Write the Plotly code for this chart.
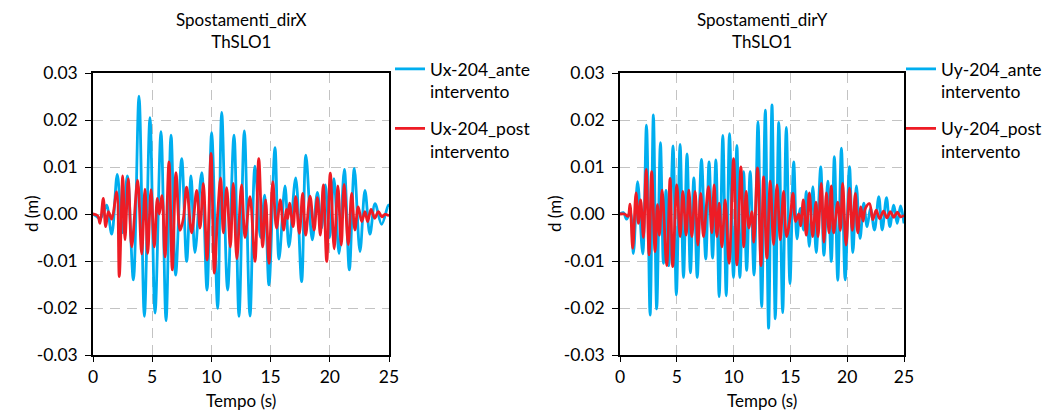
import plotly.graph_objects as go

# ---- data ----
tx_ante = [0, 0.3, 0.6, 0.9, 1.15, 1.58, 2.05, 2.48, 2.90, 3.41, 3.885, 4.34, 4.81, 5.24, 5.74, 6.17, 6.59, 6.98,
           7.49, 7.91, 8.28, 8.61, 9.18, 9.63, 10.02, 10.53, 10.87, 11.37, 11.91, 12.33, 12.78, 13.26, 13.68, 14.15,
           14.50, 14.86, 15.37, 15.71, 16.22, 16.55, 17.12, 17.62, 17.98, 18.52, 18.95, 19.3, 19.62, 19.98, 20.35,
           20.78, 21.23, 21.65, 22.07, 22.55, 22.97, 23.39, 23.82, 24.38, 24.94, 25]
ux_ante = [0, -0.0005, -0.001, 0.0005, 0.0019, -0.0043, 0.0084, -0.004, 0.0081, -0.014, 0.0251, -0.0218, 0.0205,
           -0.0211, 0.0175, -0.0227, 0.0168, -0.013, 0.0118, -0.0101, 0.0081, -0.0082, 0.0088, -0.0162, 0.0173,
           -0.0201, 0.0216, -0.0162, 0.0168, -0.0218, 0.0177, -0.0217, 0.0102, -0.005, 0.004, -0.0151, 0.0141,
           -0.0096, 0.006, -0.007, 0.0077, -0.0144, 0.0125, -0.0055, 0.0046, -0.003, 0.0062, -0.005, 0.0075,
           -0.0084, 0.0095, -0.0119, 0.0097, -0.008, 0.005, -0.0043, 0.0022, -0.0022, 0.0019, 0.0015]

tx_post = [0, 0.4, 0.59, 0.87, 1.07, 1.30, 1.58, 2.00, 2.22, 2.51, 2.70, 2.98, 3.27, 3.77, 4.11, 4.39, 4.62, 4.90,
           5.18, 5.43, 5.60, 5.83, 6.08, 6.42, 6.70, 7.01, 7.35, 7.63, 7.91, 8.33, 8.76, 9.04, 9.32, 9.63, 9.97,
           10.25, 10.53, 10.78, 11.01, 11.29, 11.6, 11.85, 12.15, 12.55, 12.84, 13.26, 13.68, 14.0, 14.33, 14.58,
           14.86, 15.18, 15.5, 15.82, 16.1, 16.33, 16.45, 16.6, 16.9, 17.12, 17.43, 17.71, 17.96, 18.33, 18.67,
           18.95, 19.2, 19.45, 19.74, 20.04, 20.37, 20.68, 20.97, 21.21, 21.56, 21.85, 22.12, 22.4, 22.7, 22.97,
           23.2, 23.48, 23.8, 24.1, 24.4, 24.66, 25]
ux_post = [0, -0.0004, -0.002, 0.0033, -0.0027, 0.0005, -0.0011, 0.0047, -0.0133, 0.0081, -0.0055, 0.0075, -0.007,
           0.0072, -0.0085, 0.0053, -0.0084, 0.0052, -0.007, 0.0033, 0.0, 0.0039, -0.0091, 0.0111, -0.0119, 0.0088,
           -0.0035, -0.001, 0.0057, -0.004, 0.005, -0.003, 0.0065, -0.0098, 0.0129, -0.0126, 0.0, 0.0077, -0.004,
           0.0056, -0.007, 0.0065, -0.0095, 0.0062, -0.005, 0.0037, -0.0101, 0.0118, -0.007, 0.003, -0.0105,
           0.0069, -0.003, 0.003, -0.0034, 0.001, -0.001, 0.0023, -0.0027, 0.0037, -0.0041, 0.0044, -0.0045,
           0.0038, -0.0034, 0.0035, -0.0045, 0.0062, -0.0101, 0.0087, -0.0074, 0.006, -0.0066, 0.0063, -0.0065,
           0.0044, -0.0034, 0.0015, -0.0016, 0.0005, -0.0016, 0.001, -0.0009, 0.0005, -0.0006, -0.0001, -0.0004]

ty_ante = [0, 0.3, 0.59, 0.9, 1.18, 1.55, 2.0, 2.33, 2.65, 2.94, 3.23, 3.56, 3.82, 4.05, 4.3, 4.67, 4.96, 5.29,
           5.59, 5.9, 6.2, 6.5, 6.8, 7.17, 7.55, 7.84, 8.15, 8.44, 8.73, 9.05, 9.35, 9.64, 9.99, 10.29, 10.55,
           10.88, 11.15, 11.46, 11.8, 12.15, 12.47, 12.79, 13.08, 13.38, 13.67, 13.98, 14.32, 14.64, 14.96, 15.29,
           15.58, 15.87, 16.17, 16.4, 16.66, 16.98, 17.27, 17.67, 17.95, 18.29, 18.6, 18.87, 19.17, 19.49, 19.82,
           20.2, 20.5, 20.81, 21.13, 21.46, 21.75, 22.05, 22.4, 22.78, 23.08, 23.46, 23.75, 24.1, 24.4, 24.7, 25]
uy_ante = [0, 0.0003, -0.0011, 0.0005, -0.0084, 0.0069, -0.0085, 0.0189, -0.0215, 0.0211, -0.0202, 0.0152, -0.0105,
           0.005, -0.011, 0.0145, -0.0172, 0.0148, -0.0135, 0.0128, -0.0125, 0.0077, -0.0135, 0.0116, -0.0096,
           0.0111, -0.0094, 0.0115, -0.0176, 0.0167, -0.0174, 0.0171, -0.0135, 0.0146, -0.0135, 0.009, -0.012,
           0.009, -0.013, 0.0196, -0.0197, 0.0221, -0.0243, 0.0232, -0.0223, 0.0195, -0.021, 0.0184, -0.0148,
           0.0111, -0.0053, 0.0012, -0.0034, 0.0048, -0.0069, 0.0058, -0.0082, 0.01, -0.0088, 0.007, -0.0101,
           0.0122, -0.0141, 0.014, -0.014, 0.0101, -0.0082, 0.006, -0.0052, 0.0023, -0.0027, 0.0012, -0.0034,
           0.0037, -0.0034, 0.0035, -0.0027, 0.0019, -0.002, 0.0017, -0.002]

ty_post = [0, 0.4, 0.7, 0.88, 1.12, 1.41, 1.62, 1.82, 2.06, 2.30, 2.56, 2.79, 3.09, 3.29, 3.47, 3.71, 4.11, 4.41,
           4.64, 5.0, 5.29, 5.53, 5.82, 6.06, 6.32, 6.61, 6.85, 7.11, 7.35, 7.79, 8.09, 8.29, 8.53, 8.73, 8.97,
           9.26, 9.6, 10.0, 10.29, 10.64, 10.9, 11.1, 11.35, 11.6, 11.78, 12.11, 12.41, 12.64, 12.93, 13.23, 13.52,
           13.82, 14.11, 14.4, 14.66, 14.99, 15.23, 15.46, 15.73, 15.9, 16.14, 16.4, 16.67, 16.96, 17.25, 17.43,
           17.72, 17.95, 18.17, 18.4, 18.6, 18.81, 19.17, 19.4, 19.6, 19.9, 20.2, 20.45, 20.72, 20.93, 21.2, 21.4,
           21.6, 21.96, 22.25, 22.55, 22.85, 23.2, 23.5, 23.8, 24.1, 24.4, 24.7, 25]
uy_post = [0, 0.0, -0.0005, 0.0021, -0.0073, 0.0045, -0.002, 0.003, -0.005, 0.0095, -0.0087, 0.009, -0.008, 0.002,
           -0.0045, 0.0051, -0.011, 0.0076, -0.0112, 0.0062, -0.0048, 0.0048, -0.0045, 0.0051, -0.0048, 0.0048,
           -0.0066, 0.0044, -0.0048, 0.0058, -0.004, 0.0062, -0.0048, 0.0023, -0.007, 0.003, -0.0105, 0.0118,
           -0.0108, 0.01, -0.007, 0.0048, -0.003, 0.0005, -0.006, 0.0098, -0.011, 0.0079, -0.0094, 0.007, -0.0065,
           0.0062, -0.0055, 0.0048, -0.0048, -0.0005, 0.0044, -0.0016, 0.0, -0.0025, 0.003, -0.0045, 0.0045,
           -0.0048, 0.0025, -0.0048, 0.0065, -0.006, 0.0045, -0.004, 0.006, -0.004, 0.0025, -0.0035, 0.0065,
           -0.0066, 0.0055, -0.0035, 0.0044, -0.004, 0.0015, -0.0015, 0.0012, 0.0022, -0.0012, 0.0008, -0.001,
           0.0006, -0.0008, 0.0005, -0.0007, 0.0004, -0.0006, -0.0003]

x_ticks = [0, 5, 10, 15, 20, 25]
y_ticks = [-0.03, -0.02, -0.01, 0.0, 0.01, 0.02, 0.03]
y_ticktext = ["-0.03", "-0.02", "-0.01", "0.00", "0.01", "0.02", "0.03"]

names = ["Ux-204_ante<br>intervento", "Ux-204_post<br>intervento",
         "Uy-204_ante<br>intervento", "Uy-204_post<br>intervento"]
titles = ["Spostamenti_dirX<br>ThSLO1", "Spostamenti_dirY<br>ThSLO1"]

BLUE = "#00AEEF"
RED = "#EE1C25"
FONT = "Lato"

# page body has an 8px margin: size the figure so it fits the 1058x417 window
OFF = 8
W, H = 1058 - OFF, 417 - OFF


def px(xv):   # window x pixel -> paper fraction
    return (xv - OFF) / W


def py(yv):   # window y pixel -> paper fraction
    return 1 - (yv - OFF) / H


fig = go.Figure()
series = [(tx_ante, ux_ante, BLUE, "x", "y", "legend", "g1"),
          (tx_post, ux_post, RED, "x", "y", "legend", "g2"),
          (ty_ante, uy_ante, BLUE, "x2", "y2", "legend2", "g3"),
          (ty_post, uy_post, RED, "x2", "y2", "legend2", "g4")]
for (tt, vv, col, xa, ya, lg, grp), nm in zip(series, names):
    fig.add_trace(go.Scatter(x=tt, y=vv, mode="lines", name=nm, legendgroup=grp,
                             line=dict(color=col, width=2.8, shape="spline", smoothing=1.0),
                             xaxis=xa, yaxis=ya, legend=lg))

ydom = [py(355), py(73)]
xdom1 = [px(93), px(389)]
xdom2 = [px(620), px(904)]

GRID = "#C3C3C3"
common_x = dict(range=[0, 25], tickvals=x_ticks, showgrid=True, gridcolor=GRID, griddash="10px,7px",
                gridwidth=1, showline=True, linecolor="black", linewidth=1.5, mirror=True,
                ticks="outside", ticklen=5, tickcolor="black", zeroline=False,
                tickfont=dict(family=FONT, size=17.5, color="black"))
common_y = dict(range=[-0.03, 0.03], tickvals=y_ticks, ticktext=y_ticktext, showgrid=True,
                gridcolor=GRID, griddash="10px,7px", gridwidth=1, showline=True, linecolor="black",
                linewidth=1.5, mirror=True, ticks="outside", ticklen=6, tickcolor="black", zeroline=False,
                ticklabelstandoff=4, tickfont=dict(family=FONT, size=17.5, color="black"))

legend_common = dict(xanchor="left", yanchor="top", valign="top", itemwidth=30,
                     font=dict(family=FONT, size=17.5, color="black"), tracegroupgap=11,
                     bgcolor="rgba(0,0,0,0)")

fig.update_layout(
    width=W, height=H, margin=dict(l=0, r=0, t=0, b=0, autoexpand=False),
    paper_bgcolor="white", plot_bgcolor="white",
    font=dict(family=FONT, size=17, color="black"),
    xaxis=dict(domain=xdom1, anchor="y", **common_x),
    yaxis=dict(domain=ydom, anchor="x", **common_y),
    xaxis2=dict(domain=xdom2, anchor="y2", **common_x),
    yaxis2=dict(domain=ydom, anchor="x2", **common_y),
    legend=dict(x=px(390), y=py(51), **legend_common),
    legend2=dict(x=px(901), y=py(51), **legend_common),
    showlegend=True,
)

annots = []
for cx, t in [(px((93 + 389) / 2), titles[0]), (px((620 + 904) / 2), titles[1])]:
    annots.append(dict(x=cx, y=py(30), xref="paper", yref="paper", text=t, showarrow=False, borderpad=0,
                       xanchor="center", yanchor="middle", font=dict(family=FONT, size=17)))
    annots.append(dict(x=cx, y=py(400), xref="paper", yref="paper", text="Tempo (s)", showarrow=False,
                       xanchor="center", yanchor="middle", font=dict(family=FONT, size=17)))
for lx in [31, 554]:
    annots.append(dict(x=px(lx), y=py(214), xref="paper", yref="paper", text="d (m)", showarrow=False,
                       textangle=-90, xanchor="center", yanchor="middle", font=dict(family=FONT, size=17)))
fig.update_layout(annotations=annots)

fig.write_html("out.html")
